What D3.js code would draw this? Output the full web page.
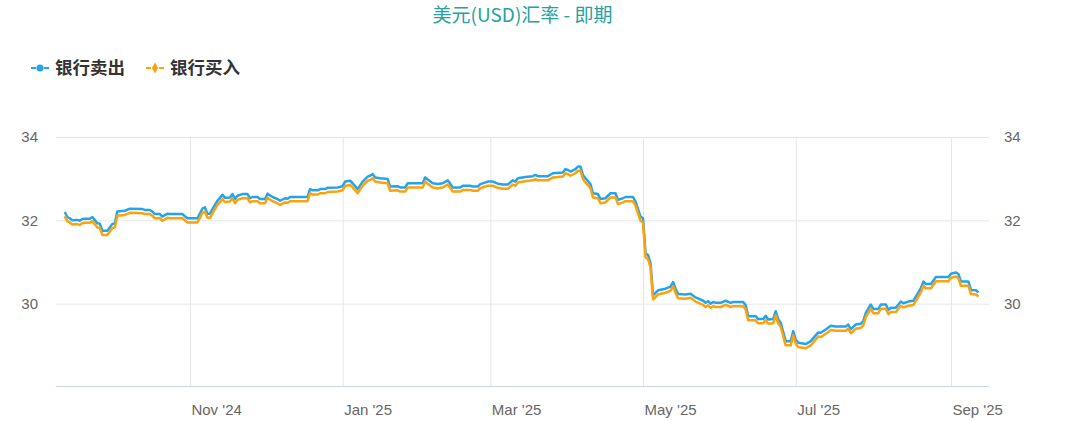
<!DOCTYPE html>
<html>
<head>
<meta charset="utf-8">
<script src="https://cdn.jsdelivr.net/npm/d3@7"></script>
<style>
  body { margin: 0; background: #fff; }
  svg { display: block; font-family: "Noto Sans", "Noto Sans CJK SC", sans-serif; }
</style>
</head>
<body>
<svg width="1083" height="421"></svg>
<script>
// 美元(USD)汇率 - 即期
var dates = [
  '2024-09-12','2024-09-13','2024-09-14','2024-09-15','2024-09-17','2024-09-18','2024-09-19','2024-09-20','2024-09-22','2024-09-23',
  '2024-09-24','2024-09-25','2024-09-26','2024-09-27','2024-09-29','2024-09-30','2024-10-01','2024-10-02','2024-10-03','2024-10-06',
  '2024-10-08','2024-10-13','2024-10-14','2024-10-16','2024-10-17','2024-10-18','2024-10-20','2024-10-21','2024-10-23','2024-10-24',
  '2024-10-29','2024-10-30','2024-10-31','2024-11-04','2024-11-06','2024-11-07','2024-11-08','2024-11-09','2024-11-11','2024-11-12',
  '2024-11-14','2024-11-15','2024-11-17','2024-11-18','2024-11-19','2024-11-20','2024-11-22','2024-11-24','2024-11-25','2024-11-26',
  '2024-11-28','2024-11-29','2024-12-01','2024-12-02','2024-12-04','2024-12-06','2024-12-07','2024-12-09','2024-12-10','2024-12-11',
  '2024-12-18','2024-12-19','2024-12-20','2024-12-22','2024-12-23','2024-12-25','2024-12-26','2024-12-30','2025-01-01','2025-01-02',
  '2025-01-04','2025-01-05','2025-01-07','2025-01-09','2025-01-11','2025-01-12',
  '2025-01-13','2025-01-14','2025-01-16','2025-01-19','2025-01-20','2025-01-23','2025-01-24','2025-01-26','2025-01-27','2025-02-02',
  '2025-02-03','2025-02-04','2025-02-06','2025-02-08','2025-02-10','2025-02-12','2025-02-14','2025-02-17','2025-02-18','2025-02-21',
  '2025-02-22','2025-02-24','2025-02-25','2025-02-28','2025-03-02','2025-03-04','2025-03-06','2025-03-08','2025-03-10','2025-03-11',
  '2025-03-12','2025-03-15',
  '2025-03-18','2025-03-19','2025-03-20','2025-03-24','2025-03-26','2025-03-30','2025-03-31','2025-04-01','2025-04-02','2025-04-04',
  '2025-04-05','2025-04-06','2025-04-07','2025-04-08','2025-04-10','2025-04-11','2025-04-13','2025-04-14','2025-04-16','2025-04-17',
  '2025-04-18','2025-04-20','2025-04-21','2025-04-23','2025-04-24','2025-04-27','2025-04-28','2025-04-30','2025-05-01','2025-05-02',
  '2025-05-03','2025-05-04','2025-05-05','2025-05-07',
  '2025-05-10','2025-05-12','2025-05-13','2025-05-14','2025-05-15','2025-05-18','2025-05-20','2025-05-22','2025-05-25','2025-05-26',
  '2025-05-27','2025-05-28','2025-05-29','2025-05-30','2025-06-01','2025-06-03','2025-06-05','2025-06-06','2025-06-10','2025-06-11',
  '2025-06-12','2025-06-15','2025-06-16','2025-06-18','2025-06-19','2025-06-20','2025-06-22','2025-06-23','2025-06-24','2025-06-25',
  '2025-06-27','2025-06-29','2025-06-30','2025-07-01','2025-07-02','2025-07-05','2025-07-07','2025-07-09','2025-07-10',
  '2025-07-11','2025-07-13','2025-07-15','2025-07-17','2025-07-21','2025-07-22','2025-07-23','2025-07-25','2025-07-27','2025-07-28',
  '2025-07-29','2025-07-31','2025-08-01','2025-08-03','2025-08-04','2025-08-06','2025-08-07','2025-08-08','2025-08-10','2025-08-12',
  '2025-08-13','2025-08-15','2025-08-17','2025-08-18','2025-08-20','2025-08-21','2025-08-22','2025-08-24','2025-08-26','2025-08-31',
  '2025-09-01','2025-09-03','2025-09-04','2025-09-05','2025-09-08','2025-09-09','2025-09-11','2025-09-12'
];

// 银行卖出
var sellRates = [
  32.20,32.08,32.05,32.00,32.01,31.99,32.03,32.04,32.04,32.08,
  32.01,31.93,31.92,31.75,31.75,31.83,31.91,31.93,32.21,32.23,
  32.28,32.27,32.25,32.25,32.21,32.15,32.15,32.09,32.16,32.15,
  32.15,32.10,32.05,32.05,32.28,32.31,32.16,32.16,32.37,32.47,
  32.61,32.54,32.55,32.63,32.51,32.59,32.63,32.63,32.53,32.56,
  32.56,32.51,32.51,32.64,32.56,32.51,32.47,32.53,32.52,32.56,
  32.56,32.75,32.72,32.72,32.75,32.75,32.78,32.79,32.82,32.93,
  32.95,32.89,32.75,32.93,33.05,33.07,
  33.11,33.03,33.01,32.99,32.81,32.82,32.79,32.79,32.89,32.89,
  33.03,32.98,32.89,32.87,32.89,32.96,32.79,32.79,32.83,32.83,
  32.81,32.81,32.87,32.93,32.93,32.88,32.86,32.86,32.96,32.93,
  33.01,33.04,
  33.06,33.09,33.06,33.06,33.13,33.15,33.23,33.21,33.17,33.23,
  33.29,33.29,33.09,33.01,32.87,32.65,32.63,32.51,32.53,32.59,
  32.65,32.65,32.49,32.53,32.56,32.56,32.45,32.09,32.05,31.21,
  31.17,30.97,30.20,30.32,
  30.36,30.41,30.52,30.36,30.23,30.22,30.24,30.15,30.07,30.02,
  30.06,30.00,30.04,30.02,30.02,30.07,30.02,30.04,30.04,29.96,
  29.70,29.70,29.63,29.63,29.71,29.62,29.63,29.82,29.63,29.54,
  29.10,29.10,29.34,29.14,29.06,29.03,29.10,29.24,29.31,
  29.30,29.38,29.47,29.45,29.45,29.50,29.39,29.50,29.52,29.58,
  29.78,29.98,29.87,29.87,29.98,29.98,29.85,29.90,29.90,30.05,
  30.01,30.05,30.07,30.17,30.37,30.53,30.47,30.47,30.64,30.64,
  30.72,30.75,30.71,30.53,30.53,30.33,30.32,30.27
];

// 银行买入
var buyRates = [
  32.10,31.98,31.95,31.90,31.91,31.89,31.93,31.94,31.94,31.98,
  31.91,31.83,31.82,31.65,31.65,31.73,31.81,31.83,32.11,32.13,
  32.18,32.17,32.15,32.15,32.11,32.05,32.05,31.99,32.06,32.05,
  32.05,32.00,31.95,31.95,32.18,32.21,32.06,32.06,32.27,32.37,
  32.51,32.44,32.45,32.53,32.41,32.49,32.53,32.53,32.43,32.46,
  32.46,32.41,32.41,32.54,32.46,32.41,32.37,32.43,32.42,32.46,
  32.46,32.65,32.62,32.62,32.65,32.65,32.68,32.69,32.72,32.83,
  32.85,32.79,32.65,32.83,32.95,32.97,
  33.01,32.93,32.91,32.89,32.71,32.72,32.69,32.69,32.79,32.79,
  32.93,32.88,32.79,32.77,32.79,32.86,32.69,32.69,32.73,32.73,
  32.71,32.71,32.77,32.83,32.83,32.78,32.76,32.76,32.86,32.83,
  32.91,32.94,
  32.96,32.99,32.96,32.96,33.03,33.05,33.13,33.11,33.07,33.13,
  33.19,33.19,32.99,32.91,32.77,32.55,32.53,32.41,32.43,32.49,
  32.55,32.55,32.39,32.43,32.46,32.46,32.35,31.99,31.95,31.11,
  31.07,30.87,30.10,30.22,
  30.26,30.31,30.42,30.26,30.13,30.12,30.14,30.05,29.97,29.92,
  29.96,29.90,29.94,29.92,29.92,29.97,29.92,29.94,29.94,29.86,
  29.60,29.60,29.53,29.53,29.61,29.52,29.53,29.72,29.53,29.44,
  29.00,29.00,29.24,29.04,28.96,28.93,29.00,29.14,29.21,
  29.20,29.28,29.37,29.35,29.35,29.40,29.29,29.40,29.42,29.48,
  29.68,29.88,29.77,29.77,29.88,29.88,29.75,29.80,29.80,29.95,
  29.91,29.95,29.97,30.07,30.27,30.43,30.37,30.37,30.54,30.54,
  30.62,30.65,30.61,30.43,30.43,30.23,30.22,30.17
];

var seriesNames = ['银行卖出', '银行买入'];
var seriesColors = ['#22a5ea', '#ffa10a'];
var yTicks = [30, 32, 34];
var xTicks = ['2024-11-01', '2025-01-01', '2025-03-01', '2025-05-01', '2025-07-01', '2025-09-01'];

var width = 1083;
var height = 421;
var margin = {left: 56, right: 94, top: 137, bottom: 34};

var parseDate = d3.timeParse('%Y-%m-%d');
var fmtTick = d3.timeFormat("%b '%y");

var xScale = d3.scaleTime()
  .domain([new Date(2024, 8, 8, 12), new Date(2025, 8, 16, 5)])
  .range([margin.left, width - margin.right]);
var yScale = d3.scaleLinear().domain([28, 34]).range([height - margin.bottom, margin.top]);

var svg = d3.select('svg');

// grid
svg.append('g')
  .attr('transform', 'translate(0,' + margin.top + ')')
  .call(d3.axisBottom(xScale).tickValues(xTicks.map(parseDate)).tickSize(height - margin.bottom - margin.top).tickFormat(''))
  .call(function (g) { g.select('.domain').remove(); })
  .selectAll('line').attr('stroke', '#e6e6e6');

svg.append('g')
  .attr('transform', 'translate(' + margin.left + ',0)')
  .call(d3.axisRight(yScale).tickValues(yTicks).tickSize(width - margin.right - margin.left).tickFormat(''))
  .call(function (g) { g.select('.domain').remove(); })
  .selectAll('line').attr('stroke', '#e6e6e6');

// x axis
var xAxis = svg.append('g')
  .attr('transform', 'translate(0,' + (height - margin.bottom - 1) + ')')
  .call(d3.axisBottom(xScale).tickValues(xTicks.map(parseDate)).tickSize(0).tickFormat(fmtTick));
xAxis.select('.domain').attr('stroke', '#ccd6eb');
xAxis.selectAll('text')
  .attr('fill', '#666')
  .attr('font-size', 15)
  .attr('text-anchor', 'start')
  .attr('dx', 1)
  .attr('y', 18);

// y axes, left and right
var yLeft = svg.append('g')
  .attr('transform', 'translate(' + (margin.left - 18) + ',0)')
  .call(d3.axisLeft(yScale).tickValues(yTicks).tickSize(0).tickFormat(d3.format('d')));
yLeft.select('.domain').remove();
yLeft.selectAll('text').attr('fill', '#666').attr('font-size', 15).attr('x', 0);

var yRight = svg.append('g')
  .attr('transform', 'translate(' + (width - margin.right + 15) + ',0)')
  .call(d3.axisRight(yScale).tickValues(yTicks).tickSize(0).tickFormat(d3.format('d')));
yRight.select('.domain').remove();
yRight.selectAll('text').attr('fill', '#666').attr('font-size', 15).attr('x', 0);

// lines
var allSeries = [sellRates, buyRates];
var line = d3.line()
  .x(function (d, i) { return xScale(parseDate(dates[i])); })
  .y(function (d) { return yScale(d); });

svg.selectAll('path.rate')
  .data(allSeries)
  .enter()
  .append('path')
  .attr('class', 'rate')
  .attr('fill', 'none')
  .attr('stroke', function (d, i) { return seriesColors[i]; })
  .attr('stroke-width', 2.5)
  .attr('stroke-linejoin', 'round')
  .attr('d', line);

// title
svg.append('text')
  .attr('x', (margin.left + width - margin.right) / 2)
  .attr('y', 22)
  .attr('text-anchor', 'middle')
  .attr('font-family', '"Noto Sans CJK SC", sans-serif')
  .attr('font-size', 19)
  .attr('fill', '#26a19f')
  .text('美元(USD)汇率 - 即期');

// legend
var legendX = [31, 146];
var legend = svg.selectAll('g.legend')
  .data(seriesNames)
  .enter()
  .append('g')
  .attr('class', 'legend')
  .attr('transform', function (d, i) { return 'translate(' + legendX[i] + ',68)'; });

legend.append('line').attr('x1', 0).attr('x2', 5).attr('stroke', function (d, i) { return seriesColors[i]; }).attr('stroke-width', 2);
legend.append('line').attr('x1', 13).attr('x2', 18).attr('stroke', function (d, i) { return seriesColors[i]; }).attr('stroke-width', 2);
legend.append('path')
  .attr('transform', 'translate(9,0)')
  .attr('fill', function (d, i) { return seriesColors[i]; })
  .attr('d', function (d, i) {
    return d3.symbol().type(i === 0 ? d3.symbolCircle : d3.symbolDiamond).size(i === 0 ? 40 : 34)();
  });
legend.append('text')
  .attr('x', 24)
  .attr('y', 6)
  .attr('font-family', '"Noto Sans CJK SC", sans-serif')
  .attr('font-size', 17.5)
  .attr('font-weight', 'bold')
  .attr('fill', '#333')
  .text(function (d) { return d; });
</script>
</body>
</html>
